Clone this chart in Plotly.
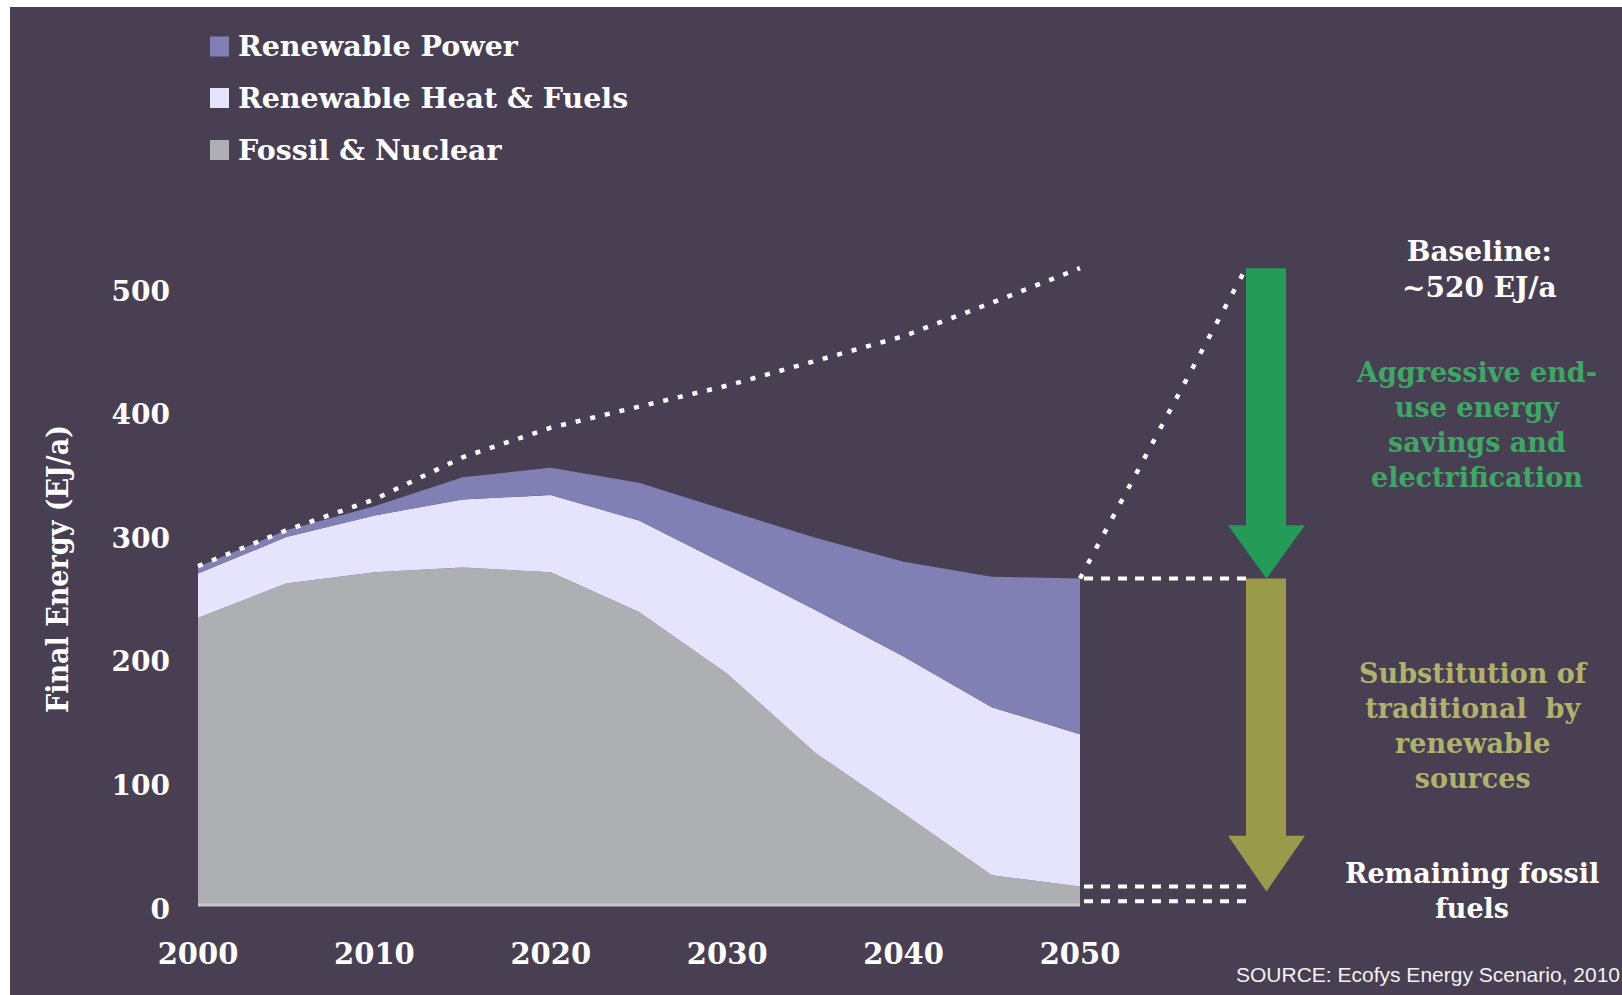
import plotly.graph_objects as go

# Final energy demand by source, EJ/a
years = [2000, 2005, 2010, 2015, 2020, 2025, 2030, 2035, 2040, 2045, 2050]
fossil_nuclear = [232, 260, 269, 273, 269, 237, 187, 123, 74, 24, 15]
renewable_heat_fuels = [36, 37.5, 46, 55, 62.5, 74, 88, 115.5, 127, 136, 123]
renewable_power = [5.5, 5.5, 7.5, 18, 22, 30.5, 44, 58.5, 76.5, 105.5, 126]
baseline = [274, 303, 328, 362, 386, 403, 420, 440, 460, 487, 515]

x_ticks = [2000, 2010, 2020, 2030, 2040, 2050]
y_ticks = [0, 100, 200, 300, 400, 500]

total = [f + h + p for f, h, p in zip(fossil_nuclear, renewable_heat_fuels, renewable_power)]

# ---- page geometry (pixels) ----
W, H = 1622, 995
ML, MT = 10, 7
PLOT_W, PLOT_H = W - ML, H - MT
X0_PX, PX_PER_YEAR = 198, 17.64      # where 2000 sits, and scale
Y0_PX, PX_PER_UNIT = 905, 1.2366     # where 0 EJ/a sits, and scale


def px_to_year(p):
    return 2000 + (p - X0_PX) / PX_PER_YEAR


def px_to_val(p):
    return (Y0_PX - p) / PX_PER_UNIT


def paper_x(p):
    return (p - ML) / PLOT_W


def paper_y(p):
    return 1 - (p - MT) / PLOT_H


BG = "#483F53"
C_POWER = "#8080B4"
C_HEAT = "#E6E4FC"
C_FOSSIL = "#AEAFB2"
C_GREEN = "#249B57"
C_OLIVE = "#9A9A4B"
SERIF = "DejaVu Serif"
SERIF_C = "DejaVu Serif Condensed"

fig = go.Figure()

# stacked areas
for name, vals, col in [
    ("Fossil & Nuclear", fossil_nuclear, C_FOSSIL),
    ("Renewable Heat & Fuels", renewable_heat_fuels, C_HEAT),
    ("Renewable Power", renewable_power, C_POWER),
]:
    fig.add_trace(go.Scatter(
        x=years, y=vals, name=name, stackgroup="energy", mode="lines",
        line=dict(width=0), fillcolor=col, showlegend=False, hoverinfo="skip",
    ))

# baseline trajectory (dotted)
fig.add_trace(go.Scatter(
    x=years, y=baseline, mode="lines", showlegend=False, hoverinfo="skip",
    line=dict(color="white", width=4.5, dash="5px,10px"),
))

# arrows on the right
shaft_l, shaft_r = px_to_year(1246), px_to_year(1286)
head_l, head_r = px_to_year(1228), px_to_year(1305)
arrow_cx = (head_l + head_r) / 2


def arrow(top, tip, head_h, color):
    neck = tip + head_h
    xs = [shaft_l, shaft_r, shaft_r, head_r, arrow_cx, head_l, shaft_l, shaft_l]
    ys = [top, top, neck, neck, tip, neck, neck, top]
    fig.add_trace(go.Scatter(
        x=xs, y=ys, mode="lines", fill="toself", fillcolor=color,
        line=dict(width=0), showlegend=False, hoverinfo="skip",
    ))


arrow(baseline[-1], total[-1], 43, C_GREEN)
arrow(total[-1], fossil_nuclear[-1] - 4, 45, C_OLIVE)

# connector from 2050 demand up to the baseline value
fig.add_trace(go.Scatter(
    x=[2050, shaft_l], y=[total[-1], baseline[-1]], mode="lines",
    showlegend=False, hoverinfo="skip",
    line=dict(color="white", width=4.5, dash="5px,12px"),
))

# dashed reference levels
for yv, x_end in [(total[-1], shaft_l), (fossil_nuclear[-1], px_to_year(1252)), (3, px_to_year(1252))]:
    fig.add_trace(go.Scatter(
        x=[px_to_year(1084), x_end], y=[yv, yv], mode="lines",
        showlegend=False, hoverinfo="skip",
        line=dict(color="white", width=4, dash="9px,8px"),
    ))

# baseline of the area chart
fig.add_shape(type="line", x0=2000, x1=2050, y0=0, y1=0, xref="x", yref="y",
              line=dict(color="#C9C9CD", width=3))

fig.update_layout(
    width=W, height=H,
    margin=dict(l=ML, t=MT, r=0, b=0),
    paper_bgcolor="white",
    plot_bgcolor=BG,
    showlegend=False,
    xaxis=dict(
        range=[px_to_year(ML), px_to_year(W)],
        anchor="free", position=paper_y(Y0_PX),
        tickvals=x_ticks, ticks="", showgrid=False, zeroline=False, showline=False,
        tickfont=dict(family=SERIF, size=29, color="white", weight="bold"),
        ticklabelstandoff=29,
    ),
    yaxis=dict(
        range=[px_to_val(H), px_to_val(MT)],
        anchor="free", position=paper_x(X0_PX),
        tickvals=y_ticks, ticks="", showgrid=False, zeroline=False, showline=False,
        tickfont=dict(family=SERIF, size=28, color="white", weight="bold"),
        ticklabelstandoff=28, ticklabelshift=4,
    ),
)

# legend
legend_rows = [
    ("Renewable Power", C_POWER, 46.5),
    ("Renewable Heat & Fuels", C_HEAT, 98),
    ("Fossil & Nuclear", C_FOSSIL, 150),
]
for label, col, yc in legend_rows:
    fig.add_shape(type="rect", xref="paper", yref="paper",
                  x0=paper_x(210), x1=paper_x(229), y0=paper_y(yc + 10), y1=paper_y(yc - 10),
                  fillcolor=col, line=dict(width=0))
    fig.add_annotation(text=label, xref="paper", yref="paper",
                       x=paper_x(236), y=paper_y(yc), xanchor="left", yanchor="middle",
                       showarrow=False,
                       font=dict(family=SERIF, size=28.5, color="white", weight="bold"))

# axis title
fig.add_annotation(text="Final Energy (EJ/a)", xref="paper", yref="paper",
                   x=paper_x(57), y=paper_y(569), textangle=-90, showarrow=False,
                   xanchor="center", yanchor="middle",
                   font=dict(family=SERIF_C, size=30, color="white", weight="bold"))

# right-hand notes
notes = [
    ("Baseline:<br>~520 EJ/a", 1479, 270, "white", 28),
    ("Aggressive end-<br>use energy<br>savings and<br>electrification", 1476, 425, "#3DA866", 27),
    ("Substitution of<br>traditional  by<br>renewable<br>sources", 1474, 726, "#B0B26C", 27),
    ("Remaining fossil<br>fuels", 1472, 891, "white", 27),
]
for txt, xp, yp, col, size in notes:
    fig.add_annotation(text=txt, xref="paper", yref="paper",
                       x=paper_x(xp), y=paper_y(yp), xanchor="center", yanchor="middle",
                       showarrow=False, align="center",
                       font=dict(family=SERIF, size=size, color=col, weight="bold"))

fig.add_annotation(text="SOURCE: Ecofys Energy Scenario, 2010", xref="paper", yref="paper",
                   x=paper_x(1622), y=paper_y(974), xanchor="right", yanchor="middle",
                   showarrow=False,
                   font=dict(family="Liberation Sans", size=21, color="#F2F2F2"))

fig.write_html("out.html")
